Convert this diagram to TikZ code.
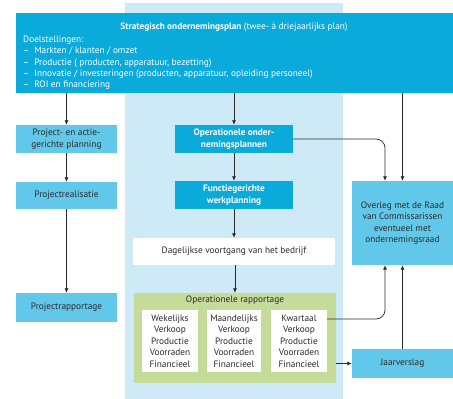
\documentclass[tikz,border=0pt]{standalone}
\usepackage{fontspec}
\setmainfont{PT Sans}
\usetikzlibrary{arrows.meta}
\definecolor{deepcyan}{HTML}{0AAADB}
\definecolor{midcyan}{HTML}{62C8EA}
\definecolor{palecyan}{HTML}{CEEAF6}
\definecolor{leaf}{HTML}{C4DB99}
\definecolor{ink}{HTML}{2A2A2A}
\tikzset{
  base/.style={inner sep=0pt, align=center, font=\fontsize{9.3}{11.4}\selectfont},
  darkbox/.style={base, fill=deepcyan, text=white, font=\fontsize{9.3}{11.4}\selectfont\bfseries},
  lightbox/.style={base, fill=midcyan, text=ink},
  whitebox/.style={base, fill=white, text=ink},
  arr/.style={draw=ink, line width=0.7pt, -{Latex[length=4.5pt,width=4pt]}},
}
\begin{document}
\begin{tikzpicture}[x=1pt,y=-1pt]
\useasboundingbox (0,0) rectangle (453,399);
% pale operational column
\fill[palecyan] (125,3) rectangle (343,399);
% strategic plan
\node[base, fill=deepcyan, minimum width=437pt, minimum height=80pt] (top) at (234.5,53) {};
\node[base, text=white] (toptitle) at (234,27) {\textbf{Strategisch ondernemingsplan} (twee- à driejaarlijks plan)};
\node[base, text=white, align=left, anchor=north west] (goals) at (23,35.5) {Doelstellingen:\\
– \ Markten / klanten / omzet\\
– \ Productie ( producten, apparatuur, bezetting)\\
– \ Innovatie / investeringen (producten, apparatuur, opleiding personeel)\\
– \ ROI en financiering};
% project column
\node[lightbox, minimum width=101pt, minimum height=28pt] (pa) at (66.5,139) {Project- en actie-\\gerichte planning};
\node[lightbox, minimum width=101pt, minimum height=27pt] (pr) at (66.5,195.5) {Projectrealisatie};
\node[lightbox, minimum width=101pt, minimum height=29pt] (prr) at (66.5,307.5) {Projectrapportage};
% operational column
\node[darkbox, minimum width=118pt, minimum height=28pt] (ops) at (234,139) {Operationele onder-\\nemingsplannen};
\node[darkbox, minimum width=118pt, minimum height=28pt] (fn) at (234,195) {Functiegerichte\\werkplanning};
\node[whitebox, minimum width=202pt, minimum height=27pt] (dag) at (234,251.5) {Dagelijkse voortgang van het bedrijf};
\node[base, fill=leaf, minimum width=202pt, minimum height=90pt] (green) at (235,338) {};
\node[base, text=ink] (greentitle) at (235,300.5) {Operationele rapportage};
\node[whitebox, minimum width=56pt, minimum height=62pt] (wk) at (170,341) {Wekelijks\\Verkoop\\Productie\\Voorraden\\Financieel};
\node[whitebox, minimum width=54pt, minimum height=62pt] (mn) at (234,341) {Maandelijks\\Verkoop\\Productie\\Voorraden\\Financieel};
\node[whitebox, minimum width=56pt, minimum height=62pt] (kw) at (299,341) {Kwartaal\\Verkoop\\Productie\\Voorraden\\Financieel};
% supervisory column
\node[lightbox, minimum width=101pt, minimum height=84pt] (ov) at (402.5,223) {Overleg met de Raad\\van Commissarissen\\eventueel met\\ondernemingsraad};
\node[lightbox, minimum width=101pt, minimum height=29pt] (jv) at (402.5,363.5) {Jaarverslag};
% connectors
\draw[arr] (pa.north |- top.south) -- (pa.north);
\draw[arr] (pa.south) -- (pr.north);
\draw[arr] (pr.south) -- (prr.north);
\draw[arr] (ops.north |- top.south) -- (ops.north);
\draw[arr] (ops.south) -- (fn.north);
\draw[arr] (fn.south) -- (dag.north);
\draw[arr] (dag.south -| green.north) -- (green.north);
\draw[arr] (ov.north |- top.south) -- (ov.north);
\draw[arr, rounded corners=9pt] (ops.east) -| ([xshift=-17.5pt]ov.north);
\draw[arr, rounded corners=9pt] ([yshift=22pt]kw.east) -| ([xshift=-17.5pt]ov.south);
\draw[arr] (jv.north) -- (ov.south);
\draw[arr] (green.east |- jv.west) -- (jv.west);
\end{tikzpicture}
\end{document}
